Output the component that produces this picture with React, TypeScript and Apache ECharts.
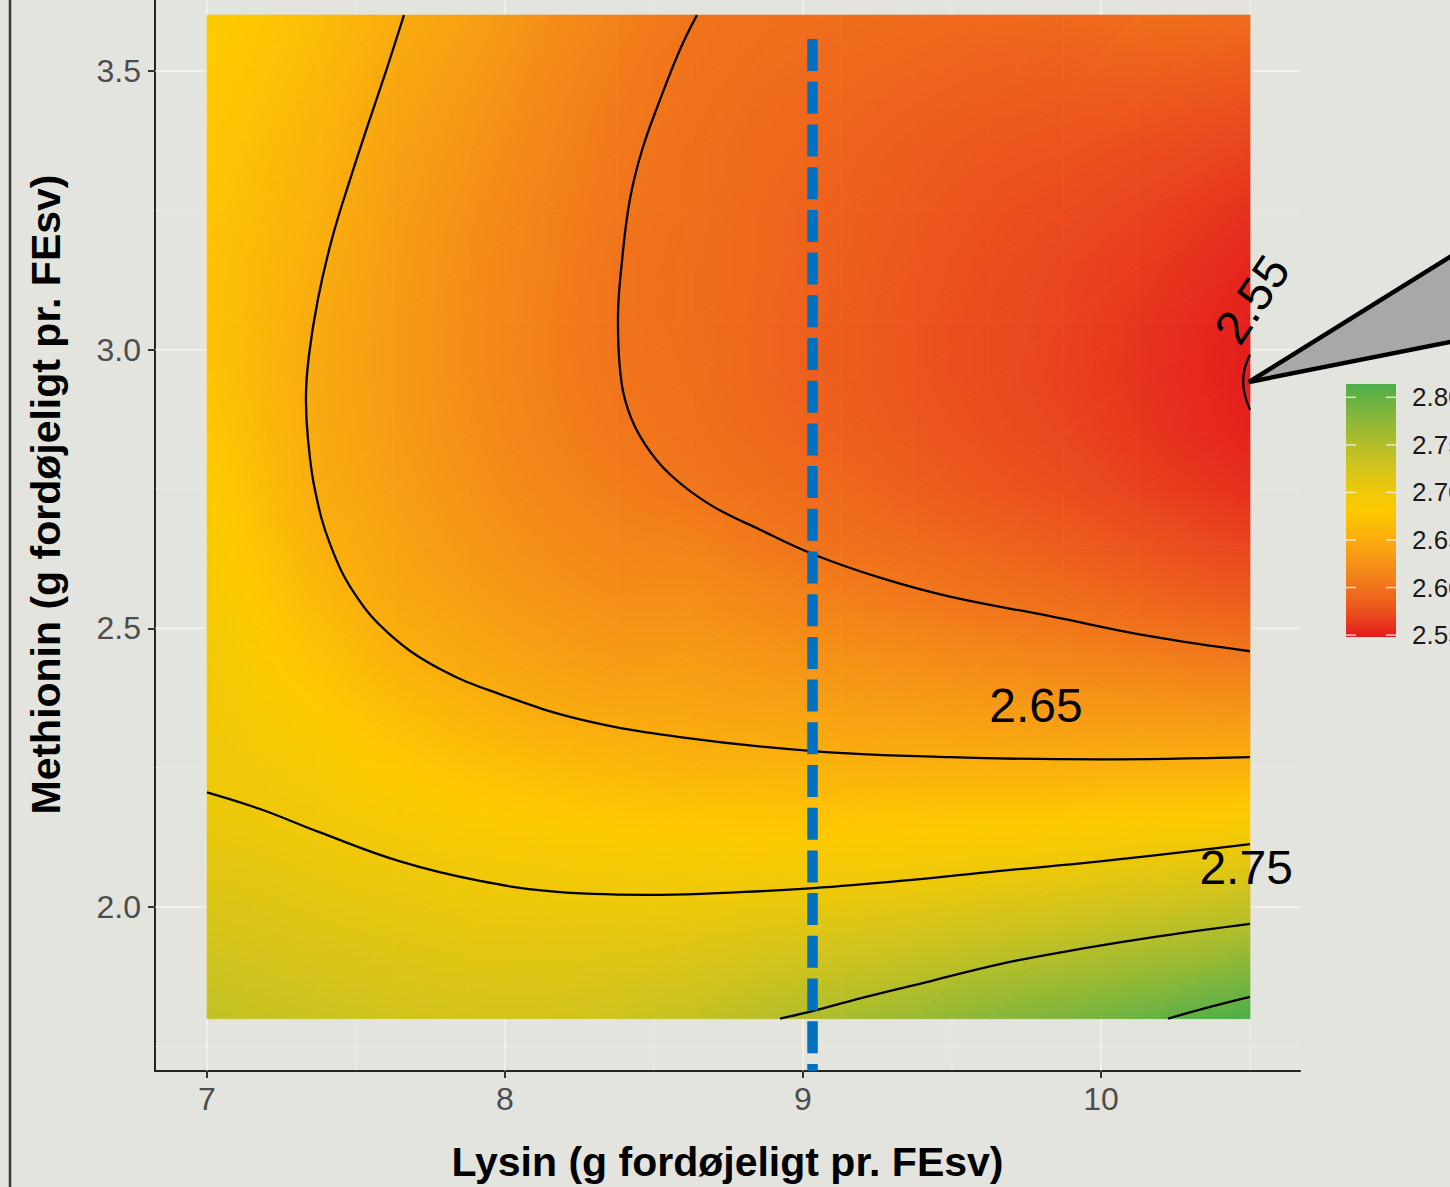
import React, { useEffect, useRef } from 'react';
import * as echarts from 'echarts';

const FONT = '"Liberation Sans", Arial, Helvetica, sans-serif';

// ---- surface values at cell centres ----
const lysinCenters = [7.125, 7.375, 7.625, 7.875, 8.125, 8.375, 8.625, 8.875, 9.125, 9.375, 9.625, 9.875, 10.125, 10.375];
const methioninCenters = [1.85, 1.95, 2.05, 2.15, 2.25, 2.35, 2.45, 2.55, 2.65, 2.75, 2.85, 2.95, 3.05, 3.15, 3.25, 3.35, 3.45, 3.55];
// one list per lysin column, methionin from 1.85 (bottom) up to 3.55 (top)
const surfaceByLysin = [
  [2.732, 2.722, 2.713, 2.703, 2.697, 2.692, 2.687, 2.682, 2.677, 2.672, 2.668, 2.665, 2.664, 2.665, 2.667, 2.670, 2.673, 2.677],
  [2.727, 2.717, 2.708, 2.698, 2.690, 2.681, 2.672, 2.663, 2.656, 2.650, 2.648, 2.647, 2.648, 2.651, 2.654, 2.657, 2.661, 2.665],
  [2.723, 2.713, 2.704, 2.692, 2.680, 2.668, 2.656, 2.647, 2.642, 2.638, 2.635, 2.634, 2.634, 2.635, 2.637, 2.640, 2.644, 2.649],
  [2.720, 2.710, 2.700, 2.686, 2.672, 2.658, 2.646, 2.638, 2.631, 2.626, 2.623, 2.621, 2.621, 2.622, 2.624, 2.628, 2.632, 2.637],
  [2.720, 2.709, 2.698, 2.682, 2.666, 2.650, 2.639, 2.629, 2.622, 2.616, 2.612, 2.610, 2.610, 2.611, 2.612, 2.615, 2.618, 2.622],
  [2.723, 2.710, 2.696, 2.679, 2.662, 2.646, 2.633, 2.623, 2.615, 2.608, 2.603, 2.601, 2.600, 2.600, 2.602, 2.604, 2.606, 2.610],
  [2.728, 2.712, 2.695, 2.677, 2.658, 2.644, 2.634, 2.623, 2.612, 2.602, 2.598, 2.596, 2.595, 2.595, 2.596, 2.596, 2.598, 2.599],
  [2.737, 2.717, 2.696, 2.676, 2.657, 2.642, 2.629, 2.617, 2.604, 2.596, 2.591, 2.589, 2.589, 2.590, 2.590, 2.592, 2.593, 2.596],
  [2.744, 2.721, 2.697, 2.677, 2.656, 2.639, 2.625, 2.610, 2.597, 2.591, 2.586, 2.584, 2.584, 2.585, 2.586, 2.588, 2.590, 2.593],
  [2.753, 2.726, 2.700, 2.677, 2.655, 2.637, 2.621, 2.605, 2.593, 2.585, 2.580, 2.578, 2.578, 2.579, 2.581, 2.583, 2.587, 2.591],
  [2.763, 2.733, 2.704, 2.679, 2.654, 2.635, 2.617, 2.599, 2.588, 2.579, 2.574, 2.572, 2.572, 2.574, 2.576, 2.579, 2.584, 2.589],
  [2.770, 2.739, 2.708, 2.681, 2.654, 2.633, 2.613, 2.595, 2.583, 2.574, 2.569, 2.567, 2.568, 2.569, 2.572, 2.577, 2.582, 2.588],
  [2.779, 2.746, 2.714, 2.683, 2.655, 2.632, 2.609, 2.590, 2.577, 2.567, 2.562, 2.560, 2.561, 2.564, 2.568, 2.573, 2.581, 2.590],
  [2.790, 2.753, 2.719, 2.686, 2.655, 2.630, 2.605, 2.585, 2.571, 2.561, 2.555, 2.553, 2.554, 2.557, 2.562, 2.569, 2.578, 2.589],
];

// ---- contour lines [lysin, methionin] ----
const contour255 = [[10.5, 2.991], [10.483, 2.968], [10.477, 2.943], [10.483, 2.918], [10.5, 2.892]];
const contour260 = [[8.644, 3.6], [8.587, 3.538], [8.52, 3.448], [8.46, 3.358], [8.419, 3.269], [8.393, 3.161], [8.379, 3.054], [8.386, 2.964], [8.413, 2.892], [8.47, 2.83], [8.554, 2.776], [8.688, 2.722], [8.856, 2.677], [9.034, 2.633], [9.258, 2.591], [9.493, 2.557], [9.829, 2.522], [10.164, 2.486], [10.5, 2.459]];
const contour265 = [[7.661, 3.6], [7.601, 3.5], [7.54, 3.403], [7.48, 3.305], [7.42, 3.2], [7.372, 3.09], [7.341, 2.985], [7.332, 2.91], [7.339, 2.839], [7.362, 2.749], [7.413, 2.651], [7.497, 2.561], [7.614, 2.489], [7.782, 2.427], [7.983, 2.382], [8.252, 2.337], [8.587, 2.305], [9.034, 2.28], [9.493, 2.269], [9.997, 2.265], [10.5, 2.269]];
const contour270 = [[7.0, 2.206], [7.178, 2.176], [7.379, 2.134], [7.648, 2.082], [7.916, 2.047], [8.185, 2.027], [8.52, 2.022], [8.789, 2.027], [9.034, 2.034], [9.326, 2.047], [9.661, 2.065], [9.997, 2.082], [10.5, 2.113]];
const contour275 = [[8.923, 1.8], [9.034, 1.814], [9.225, 1.841], [9.426, 1.867], [9.661, 1.898], [9.93, 1.925], [10.198, 1.948], [10.5, 1.97]];
const contour280 = [[10.225, 1.8], [10.366, 1.821], [10.5, 1.839]];
const contourLines = [contour255, contour260, contour265, contour270, contour275, contour280];

// contour labels
const labelTexts = ['2.65', '2.75', '2.55'];
const labelLysin = [9.782, 10.487, 10.507];
const labelMethionin = [2.362, 2.072, 3.09];
const labelRotationDeg = [0, 0, 56];

// reference lysin level (blue dashed line)
const referenceLine = [[9.032, 3.557], [9.032, 1.7061]];

// axes
const xTicks = [7, 8, 9, 10];
const yTicks = [2.0, 2.5, 3.0, 3.5];
const xMinor = [7.5, 8.5, 9.5, 10.5];
const yMinor = [1.75, 2.25, 2.75, 3.25];
const xRange = [6.8255, 10.6678];
const yRange = [1.7061, 3.7742];

// colour scale
const colourRange = [2.548, 2.814];
const palette = ['#e41a1c', '#ea481e', '#ef6a1c', '#f38519', '#f79e14', '#fbb50a', '#feca00', '#ecc80a', '#d4c41c', '#b7bf28', '#96b934', '#73b441', '#4cae4a'];
const legendTicks = [2.55, 2.6, 2.65, 2.7, 2.75, 2.8];

const OFFSET = 82; // chart canvas starts 82px above the visible page

const paletteRgb = palette.map((h) => [parseInt(h.slice(1, 3), 16), parseInt(h.slice(3, 5), 16), parseInt(h.slice(5, 7), 16)]);
function colourOf(z: number) {
  let t = (z - colourRange[0]) / (colourRange[1] - colourRange[0]);
  t = Math.max(0, Math.min(1, t));
  const pos = t * (paletteRgb.length - 1);
  const k = Math.min(paletteRgb.length - 2, Math.floor(pos));
  const f = pos - k;
  const a = paletteRgb[k], b = paletteRgb[k + 1];
  const c = a.map((v, n) => Math.round(v + (b[n] - v) * f));
  return `rgb(${c[0]},${c[1]},${c[2]})`;
}

function shadedTriangle(nodes: number[][], vals: number[], poly: number[][]) {
  const [p1, p2, p3] = nodes;
  const [z1, z2, z3] = vals;
  const d = (p2[0] - p1[0]) * (p3[1] - p1[1]) - (p3[0] - p1[0]) * (p2[1] - p1[1]);
  const a = ((z2 - z1) * (p3[1] - p1[1]) - (z3 - z1) * (p2[1] - p1[1])) / d;
  const b = ((p2[0] - p1[0]) * (z3 - z1) - (p3[0] - p1[0]) * (z2 - z1)) / d;
  const c = z1 - a * p1[0] - b * p1[1];
  const g2 = a * a + b * b;
  let fill: any;
  if (g2 < 1e-14) {
    fill = colourOf(z1);
  } else {
    const ts = poly.map((p) => a * p[0] + b * p[1]);
    const tmin = Math.min(...ts), tmax = Math.max(...ts);
    const stops = [];
    const K = 6;
    for (let k = 0; k <= K; k++) {
      const u = k / K;
      stops.push({ offset: u, color: colourOf(tmin + c + u * (tmax - tmin)) });
    }
    fill = new echarts.graphic.LinearGradient(a * tmin / g2, b * tmin / g2, a * tmax / g2, b * tmax / g2, stops, true);
  }
  return { type: 'polygon', shape: { points: poly }, style: { fill, stroke: fill, lineWidth: 0.8 } };
}

export default function App() {
  const ref = useRef<HTMLDivElement>(null);
  useEffect(() => {
    if (!ref.current) return;
    const chart = echarts.init(ref.current, undefined, { renderer: 'svg' });

    const nx = lysinCenters.length, ny = methioninCenters.length;
    const halfW = (lysinCenters[1] - lysinCenters[0]) / 2;
    const halfH = (methioninCenters[1] - methioninCenters[0]) / 2;
    const edgeX = [lysinCenters[0] - halfW, lysinCenters[nx - 1] + halfW];
    const edgeY = [methioninCenters[0] - halfH, methioninCenters[ny - 1] + halfH];

    // tiles between neighbouring cell centres
    const tiles: number[][] = [];
    for (let i = 0; i < nx - 1; i++) {
      for (let j = 0; j < ny - 1; j++) {
        tiles.push([lysinCenters[i], methioninCenters[j], surfaceByLysin[i][j], i, j]);
      }
    }

    const gridSeries: any[] = [];
    const addGrid = (vals: number[], vertical: boolean, width: number, color: string) => {
      vals.forEach((v) => {
        gridSeries.push({
          type: 'line', silent: true, z: 1, symbol: 'none',
          data: vertical ? [[v, yRange[0]], [v, yRange[1]]] : [[xRange[0], v], [xRange[1], v]],
          lineStyle: { color, width },
        });
      });
    };
    addGrid(xTicks, true, 1.6, 'rgba(255,255,255,0.5)');
    addGrid(yTicks, false, 1.6, 'rgba(255,255,255,0.5)');
    addGrid(xMinor, true, 1, 'rgba(255,255,255,0.3)');
    addGrid(yMinor, false, 1, 'rgba(255,255,255,0.3)');

    const option: any = {
      animation: false,
      backgroundColor: '#e4e4df',
      textStyle: { fontFamily: FONT },
      grid: { left: 155, right: 150, top: 0, bottom: 115, containLabel: false },
      xAxis: {
        type: 'value', min: xRange[0], max: xRange[1],
        axisLine: { show: true, lineStyle: { color: '#222', width: 2 } },
        axisTick: { show: true, customValues: xTicks, length: 7, lineStyle: { color: '#333', width: 2 } },
        axisLabel: { customValues: xTicks, fontSize: 32, color: '#4d4d4d', margin: 12, fontFamily: FONT },
        splitLine: { show: false },
        name: 'Lysin (g fordøjeligt pr. FEsv)', nameLocation: 'middle', nameGap: 70,
        nameTextStyle: { fontSize: 41, fontWeight: 'bold', color: '#000', fontFamily: FONT },
      },
      yAxis: {
        type: 'value', min: yRange[0], max: yRange[1],
        axisLine: { show: true, lineStyle: { color: '#222', width: 2 } },
        axisTick: { show: true, customValues: yTicks, length: 7, lineStyle: { color: '#333', width: 2 } },
        axisLabel: { customValues: yTicks, fontSize: 32, color: '#4d4d4d', margin: 14, fontFamily: FONT, formatter: (v: number) => v.toFixed(1) },
        splitLine: { show: false },
        name: 'Methionin (g fordøjeligt pr. FEsv)', nameLocation: 'middle', nameGap: 89,
        nameTextStyle: { fontSize: 41, fontWeight: 'bold', color: '#000', fontFamily: FONT },
      },
      series: [
        {
          type: 'custom', silent: true, z: 2, data: tiles, encode: { x: 0, y: 1 }, clip: false,
          renderItem: (_p: any, api: any) => {
            const i = api.value(3), j = api.value(4);
            const x0 = lysinCenters[i], x1 = lysinCenters[i + 1];
            const y0 = methioninCenters[j], y1 = methioninCenters[j + 1];
            const ex0 = i === 0 ? edgeX[0] : x0;
            const ex1 = i === nx - 2 ? edgeX[1] : x1;
            const ey0 = j === 0 ? edgeY[0] : y0;
            const ey1 = j === ny - 2 ? edgeY[1] : y1;
            const n00 = api.coord([x0, y0]), n10 = api.coord([x1, y0]);
            const n11 = api.coord([x1, y1]), n01 = api.coord([x0, y1]);
            const e00 = api.coord([ex0, ey0]), e10 = api.coord([ex1, ey0]);
            const e11 = api.coord([ex1, ey1]), e01 = api.coord([ex0, ey1]);
            const z00 = surfaceByLysin[i][j], z10 = surfaceByLysin[i + 1][j];
            const z11 = surfaceByLysin[i + 1][j + 1], z01 = surfaceByLysin[i][j + 1];
            return {
              type: 'group',
              children: [
                shadedTriangle([n00, n10, n11], [z00, z10, z11], [e00, e10, e11]),
                shadedTriangle([n00, n11, n01], [z00, z11, z01], [e00, e11, e01]),
              ],
            };
          },
        },
        ...contourLines.map((pts) => ({
          type: 'line', silent: true, z: 3, symbol: 'none', smooth: 0.4, data: pts,
          lineStyle: { color: '#000', width: 2.3 },
        })),
        {
          type: 'line', silent: true, z: 4, symbol: 'none', data: referenceLine,
          lineStyle: { color: '#0070c0', width: 10.5, type: [32, 10.7], cap: 'butt' },
        },
        ...gridSeries,
      ],
    };
    chart.setOption(option);

    // graphics: frame, contour labels, callout triangle, colour legend
    const legTop = 384 + OFFSET, legBottom = 637 + OFFSET, legLeft = 1346, legW = 50;
    const legY = (v: number) => legTop + ((colourRange[1] - v) / (colourRange[1] - colourRange[0])) * (legBottom - legTop);
    const gradStops = palette.slice().reverse().map((c, i, arr) => ({ offset: i / (arr.length - 1), color: c }));

    const graphics: any[] = [
      { type: 'line', shape: { x1: 10, y1: 0, x2: 10, y2: 1187 + OFFSET }, style: { stroke: '#3a3a3a', lineWidth: 2.5 }, z: 50 },
      {
        type: 'rect', shape: { x: legLeft, y: legTop, width: legW, height: legBottom - legTop },
        style: { fill: new echarts.graphic.LinearGradient(0, 0, 0, 1, gradStops) }, z: 50,
      },
    ];
    legendTicks.forEach((v) => {
      const y = legY(v);
      graphics.push({ type: 'line', shape: { x1: legLeft, y1: y, x2: legLeft + 10, y2: y }, style: { stroke: 'rgba(255,255,255,0.75)', lineWidth: 1.5 }, z: 51 });
      graphics.push({ type: 'line', shape: { x1: legLeft + legW - 10, y1: y, x2: legLeft + legW, y2: y }, style: { stroke: 'rgba(255,255,255,0.75)', lineWidth: 1.5 }, z: 51 });
      graphics.push({
        type: 'text', x: 1412, y,
        style: { text: v.toFixed(2), fill: '#1a1a1a', fontSize: 26, fontFamily: FONT, textAlign: 'left', textVerticalAlign: 'middle', align: 'left', verticalAlign: 'middle' },
        z: 51,
      });
    });
    labelTexts.forEach((t, i) => {
      const p = chart.convertToPixel({ gridIndex: 0 }, [labelLysin[i], labelMethionin[i]]) as number[];
      graphics.push({
        type: 'text', x: p[0], y: p[1], rotation: (labelRotationDeg[i] * Math.PI) / 180,
        style: { text: t, x: 0, y: 0, fill: '#000', fontSize: 48, fontFamily: FONT, textAlign: 'center', textVerticalAlign: 'middle', align: 'center', verticalAlign: 'middle' },
        z: 55,
      });
    });
    graphics.push({
      type: 'polygon',
      shape: { points: [[1249, 382 + OFFSET], [1470, 244.5 + OFFSET], [1470, 338 + OFFSET]] },
      style: { fill: '#a8a8a8', stroke: '#000', lineWidth: 4.5, lineJoin: 'miter' },
      z: 60,
    });
    chart.setOption({ graphic: graphics });

    return () => chart.dispose();
  }, []);
  return <div ref={ref} style={{ position: 'absolute', left: 0, top: -OFFSET, width: 1450, height: 1187 + OFFSET }} />;
}
